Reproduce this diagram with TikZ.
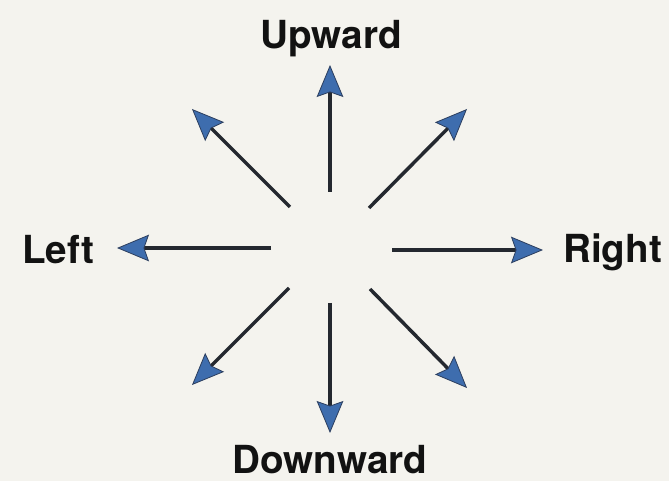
\documentclass[tikz,border=0pt]{standalone}
\usepackage{fontspec}
\setmainfont{TeX Gyre Heros}
\usetikzlibrary{arrows.meta}
\definecolor{bgpaper}{HTML}{F4F3EE}
\definecolor{ablue}{HTML}{3E6DAE}
\definecolor{lineink}{HTML}{24282F}
\definecolor{tipink}{HTML}{2C3E5E}
\definecolor{textink}{HTML}{121212}
\begin{document}
\begin{tikzpicture}[x=0.75pt,y=-0.75pt,
  dirarrow/.style={draw=lineink,line width=2.6pt,
    -{Stealth[length=24pt,width=20pt,inset=3.5pt,line width=0.6pt,fill=ablue,color=tipink]}},
  dirlabel/.style={inner sep=0pt,text=textink,font=\fontsize{29}{30}\selectfont\bfseries}]
\fill[bgpaper] (0,0) rectangle (669,481);
\useasboundingbox (0,0) rectangle (669,481);
% tails
\coordinate (tU) at (330,192);
\coordinate (tD) at (330,303);
\coordinate (tL) at (271,248);
\coordinate (tR) at (392,250);
\coordinate (tUL) at (290,207);
\coordinate (tUR) at (369,208);
\coordinate (tDL) at (289,288);
\coordinate (tDR) at (370,289);
% tips
\coordinate (hU) at (330,65);
\coordinate (hD) at (330,433);
\coordinate (hL) at (117,248);
\coordinate (hR) at (543,250);
\coordinate (hUL) at (192,109);
\coordinate (hUR) at (467,109);
\coordinate (hDL) at (192,385);
\coordinate (hDR) at (467,388);
\draw[dirarrow] (tU) -- (hU);
\draw[dirarrow] (tD) -- (hD);
\draw[dirarrow] (tL) -- (hL);
\draw[dirarrow] (tR) -- (hR);
\draw[dirarrow] (tUL) -- (hUL);
\draw[dirarrow] (tUR) -- (hUR);
\draw[dirarrow] (tDL) -- (hDL);
\draw[dirarrow] (tDR) -- (hDR);
% labels
\node[dirlabel,anchor=base] (up) at (331,49) {Upward};
\node[dirlabel,anchor=base] (down) at (330,474) {Downward};
\node[dirlabel,anchor=base west] (left) at (22,264) {Left};
\node[dirlabel,anchor=base west] (right) at (563,263) {Right};
\end{tikzpicture}
\end{document}
